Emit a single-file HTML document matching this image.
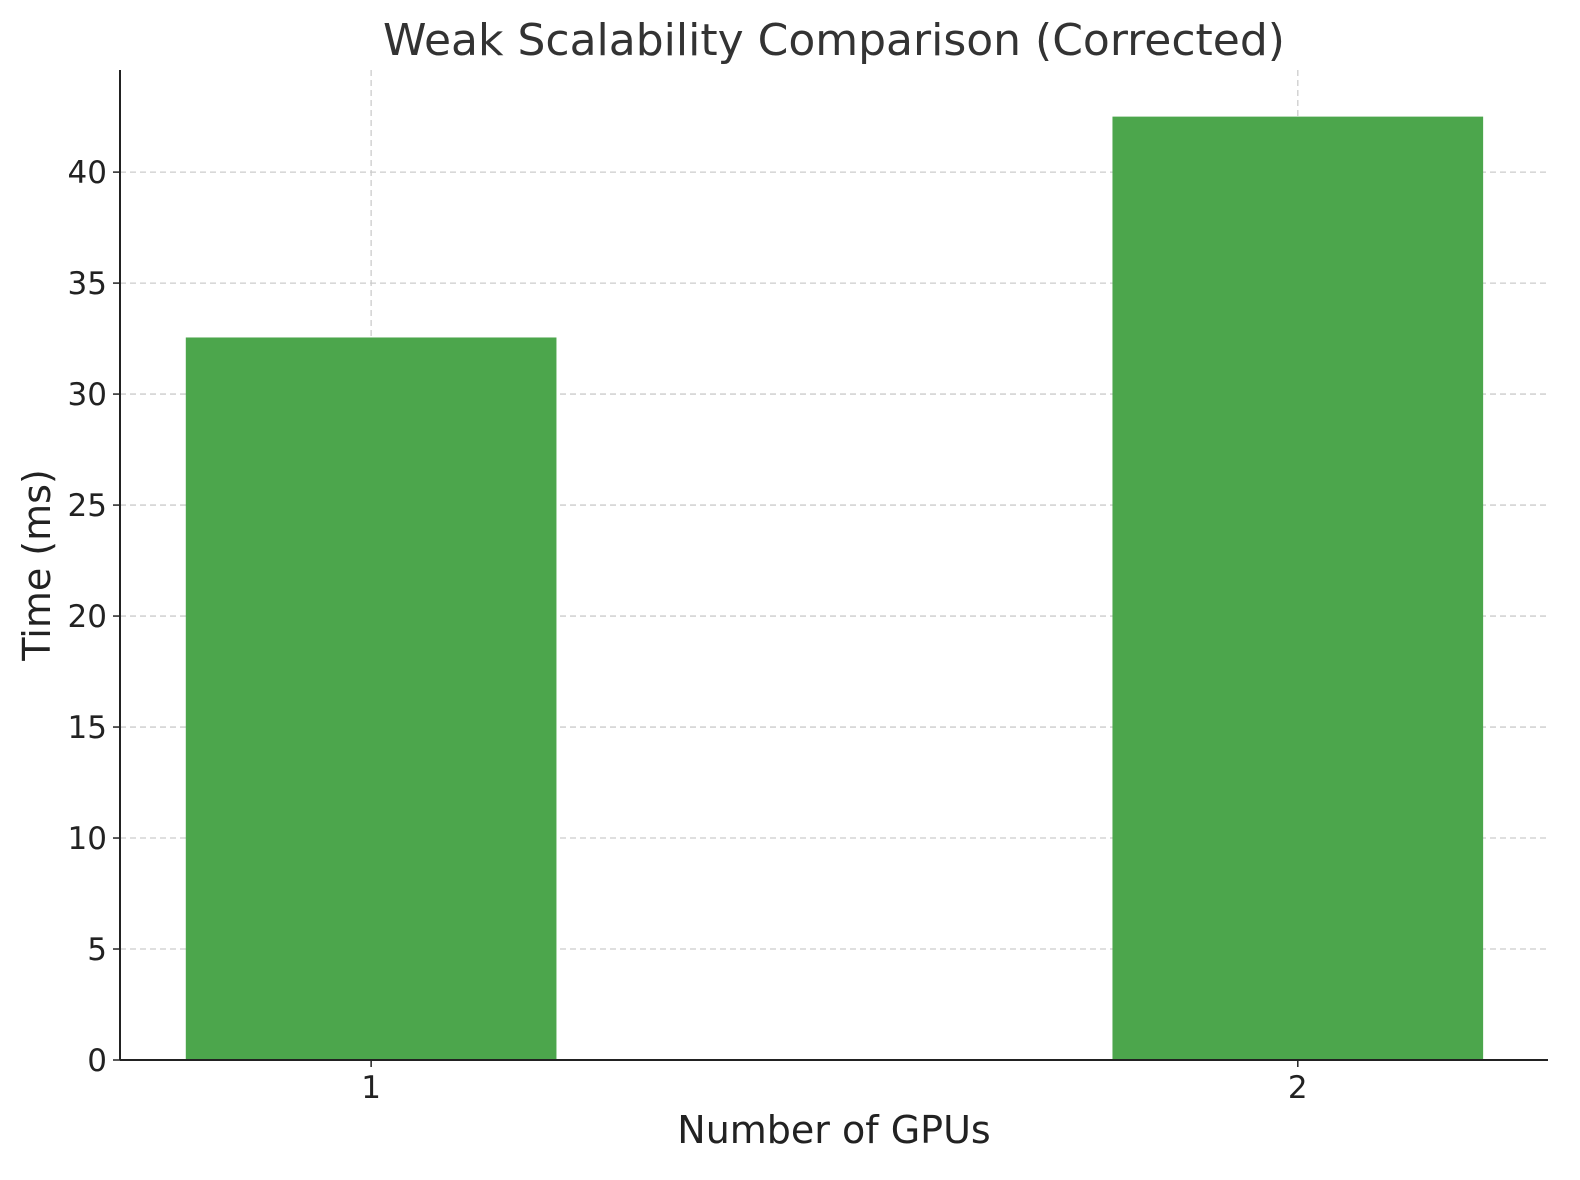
<!DOCTYPE html>
<html><head><meta charset="utf-8"><style>
body{margin:0;background:#fff;}
svg{display:block;font-family:"DejaVu Sans","Liberation Sans",sans-serif;}
</style></head><body>
<svg id="chart" width="1580" height="1180">
<text x="834" y="55" font-size="44" fill="#333" text-anchor="middle">Weak Scalability Comparison (Corrected)</text>
<text x="834" y="1143" font-size="38" fill="#222" text-anchor="middle">Number of GPUs</text>
<text transform="translate(50,565) rotate(-90)" font-size="38" fill="#222" text-anchor="middle">Time (ms)</text>
<g id="grid"></g><g id="bars"></g><g id="axes"></g>
</svg>
<script>
const categories = ["1", "2"];
const catValues = [1, 2];
const times = [32.55, 42.5];
const yTicks = [0, 5, 10, 15, 20, 25, 30, 35, 40];

const L=120,R=1548,T=70,B=1060;
const xMin=0.729,xMax=2.27,yMin=0,yMax=44.6;
const xs=v=>L+(v-xMin)/(xMax-xMin)*(R-L);
const ys=v=>B-(v-yMin)/(yMax-yMin)*(B-T);
const NS="http://www.w3.org/2000/svg";
function mk(tag,attrs,parent){const e=document.createElementNS(NS,tag);for(const k in attrs)e.setAttribute(k,attrs[k]);document.getElementById(parent).appendChild(e);return e;}
yTicks.forEach(t=>{
  const g=mk("line",{x1:L,x2:R,y1:ys(t),y2:ys(t),stroke:"#ccc","stroke-dasharray":"6,4","stroke-width":1.3},"grid");
  
  
  const tk=mk("line",{x1:L-7,x2:L,y1:ys(t),y2:ys(t),stroke:"#222","stroke-width":1.5},"axes");
  
  
  const lb=mk("text",{x:L-13,y:ys(t)+11,"font-size":31,fill:"#222","text-anchor":"end"},"axes");
  lb.textContent=t;
  
  
});
catValues.forEach((c,i)=>{
  const g=mk("line",{x1:xs(c),x2:xs(c),y1:T,y2:B,stroke:"#ccc","stroke-dasharray":"6,4","stroke-width":1.3},"grid");
  
  
  const b=mk("rect",{x:xs(c-0.2),y:ys(times[i]),width:xs(c+0.2)-xs(c-0.2),height:ys(0)-ys(times[i]),fill:"#4ca64c"},"bars");
  
  
  const tk=mk("line",{x1:xs(c),x2:xs(c),y1:B,y2:B+7,stroke:"#222","stroke-width":1.5},"axes");
  
  
  const lb=mk("text",{x:xs(c),y:B+38,"font-size":31,fill:"#222","text-anchor":"middle"},"axes");
  lb.textContent=categories[i];
  
  
});
const ya=mk("line",{x1:L,x2:L,y1:T,y2:B,stroke:"#222","stroke-width":2},"axes");


const xa=mk("line",{x1:L,x2:R,y1:B,y2:B,stroke:"#222","stroke-width":2},"axes");


</script>
</body></html>
